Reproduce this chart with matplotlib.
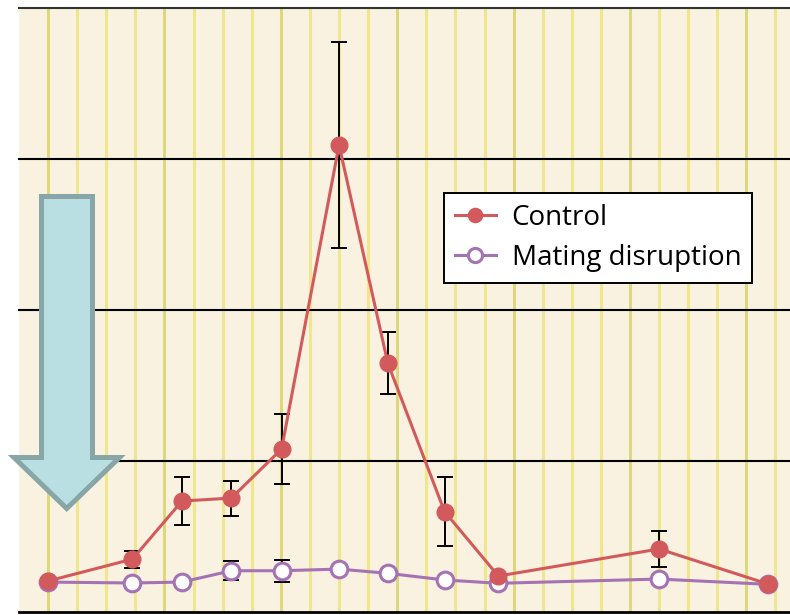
import matplotlib
matplotlib.use("Agg")
import matplotlib.pyplot as plt
from matplotlib.patches import Polygon
import numpy as np

# sampling days and series values (grid units: one black line = 10)
days = [0, 11.6, 18.4, 25.2, 32.1, 40.0, 46.7, 54.5, 61.9, 84.0, 99.0]
control = [2.05, 3.5, 7.34, 7.54, 10.78, 30.9, 16.47, 6.65, 2.38, 4.17, 1.85]
control_err = [0, 0.56, 1.57, 1.16, 2.29, 6.83, 2.06, 2.29, 0, 1.16, 0]
disruption = [1.98, 1.92, 1.98, 2.73, 2.73, 2.84, 2.56, 2.12, 1.90, 2.18, 1.83]
disruption_err = [0, 0, 0, 0.63, 0.74, 0, 0, 0, 0, 0, 0]

RED = "#d35a5c"
PURPLE = "#a572b4"
CREAM = "#faf2e0"

W, H = 790, 615
fig = plt.figure(figsize=(W / 100, H / 100), dpi=100)
ax = fig.add_axes([19 / W, 1 - 612 / H, 1 - 19 / W, (612 - 7.5) / H])
ax.set_facecolor(CREAM)
ax.set_xlim(-4, 102)
ax.set_ylim(0, 40)
for s in ax.spines.values():
    s.set_visible(False)
ax.set_xticks([])
ax.set_yticks([])

# vertical day lines, a darker one every 16 days
for d in range(0, 101, 4):
    c = "#dcd97c" if d % 16 == 0 else "#efe78e"
    ax.axvline(d, color=c, lw=2.2, zorder=1)

# horizontal black rules
for v in (0, 10, 20, 30, 40):
    ax.axhline(v, color="#333333" if v == 40 else "black", lw=2.0 if v == 0 else 1.5,
               zorder=2, clip_on=False)

ax.errorbar(days, control, yerr=control_err, fmt="none", ecolor="black",
            elinewidth=1.4, capsize=5.8, capthick=1.4, zorder=3)
ax.errorbar(days, disruption, yerr=disruption_err, fmt="none", ecolor="black",
            elinewidth=1.4, capsize=5.8, capthick=1.4, zorder=3)

ax.plot(days, disruption, color=PURPLE, lw=2.2, marker="o", ms=12,
        mfc="white", mec=PURPLE, mew=2.2, zorder=4, label="Mating disruption",
        clip_on=False)
ax.plot(days, control, color=RED, lw=2.2, marker="o", ms=12,
        mfc=RED, mec=RED, zorder=5, label="Control", clip_on=False)

handles, labels = ax.get_legend_handles_labels()
leg = ax.legend(handles[::-1], labels[::-1], loc="upper left",
                bbox_to_anchor=((444 - 19) / (W - 19), 1 - (193 - 7.5) / (612 - 7.5)),
                prop={"family": "Open Sans", "size": 20},
                frameon=True, fancybox=False, framealpha=1, edgecolor="black",
                handlelength=1.5, handletextpad=0.55, labelspacing=0.45,
                borderpad=0.38, borderaxespad=0, markerscale=0.85)
leg.get_frame().set_linewidth(1.4)
leg.set_zorder(6)

# big down arrow at the left, in figure pixels
arrow_px = np.array([
    [41.5, 196.5], [92.5, 196.5], [92.5, 457.5], [119.5, 457.5],
    [66.7, 508.5], [14.0, 457.5], [41.5, 457.5],
])
arrow_fig = np.column_stack([arrow_px[:, 0] / W, 1 - arrow_px[:, 1] / H])
fig.patches.append(Polygon(arrow_fig, closed=True, transform=fig.transFigure,
                           facecolor="#b9dfe2", edgecolor="#88a6a8", lw=3.6,
                           joinstyle="miter", zorder=10))

fig.savefig("out.png", dpi=100, facecolor="white")
